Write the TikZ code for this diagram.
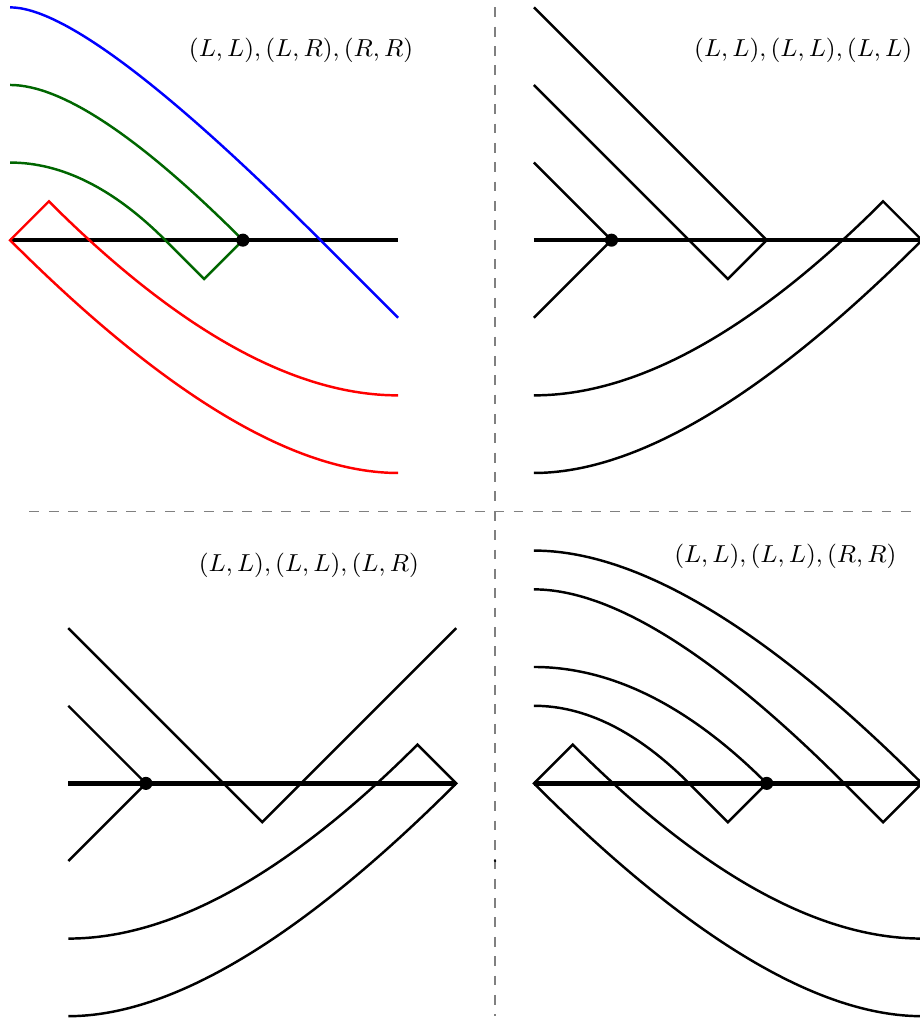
\documentclass[tikz,border=0pt]{standalone}
\begin{document}
\begin{tikzpicture}[x=0.5cm,y=0.5cm]
  \tikzstyle{strand}=[line width=0.9pt]
  \tikzstyle{axis}=[line width=1.6pt]
  \tikzstyle{sep}=[gray,line width=0.5pt,dash pattern=on 3.6pt off 3.5pt]
  \tikzstyle{crossing}=[circle,fill,inner sep=0pt,minimum size=4.8pt]
  \tikzstyle{word}=[inner sep=0pt,font=\fontsize{8.55}{10}\selectfont]
  \useasboundingbox (-0.26,-20.15) rectangle (23.43,6.19);
  % separators
  \draw[sep] (12.5,6) -- (12.5,-20);
  \draw[sep] (0.5,-7) -- (24.5,-7);
  \fill (12.5,-16) circle (0.5pt);
  % top left
  \begin{scope}
    \draw[axis] (0,0) -- (10,0);
    \draw[strand,red] (10,-6) .. controls (22/3,-6) and (4,-4) .. (0,0) -- (1,1)
      .. controls (13/3,-7/3) and (22/3,-4) .. (10,-4);
    \draw[strand,green!40!black] (0,4) .. controls (4/3,4) and (10/3,8/3) .. (6,0) -- (5,-1) -- (4,0)
      .. controls (8/3,4/3) and (4/3,2) .. (0,2);
    \draw[strand,blue] (0,6) .. controls (4/3,6) and (4,4) .. (8,0) -- (10,-2);
    \node[crossing] (tlx) at (6,0) {};
  \end{scope}
  \node[word] (tlw) at (7.5,4.9) {$(L,L),(L,R),(R,R)$};
  % top right
  \begin{scope}[shift={(13.5,0)}]
    \draw[axis] (0,0) -- (10,0);
    \draw[strand] (0,2) -- (2,0) -- (0,-2);
    \draw[strand] (0,6) -- (6,0) -- (5,-1) -- (0,4);
    \draw[strand] (0,-4) .. controls (8/3,-4) and (17/3,-7/3) .. (9,1) -- (10,0)
      .. controls (6,-4) and (8/3,-6) .. (0,-6);
    \node[crossing] (trx) at (2,0) {};
  \end{scope}
  \node[word] (trw) at (20.44,4.88) {$(L,L),(L,L),(L,L)$};
  % bottom left
  \begin{scope}[shift={(1.5,-14)}]
    \draw[axis] (0,0) -- (10,0);
    \draw[strand] (0,2) -- (2,0) -- (0,-2);
    \draw[strand] (0,4) -- (5,-1) -- (10,4);
    \draw[strand] (0,-4) .. controls (8/3,-4) and (17/3,-7/3) .. (9,1) -- (10,0)
      .. controls (6,-4) and (8/3,-6) .. (0,-6);
    \node[crossing] (blx) at (2,0) {};
  \end{scope}
  \node[word] (blw) at (7.7,-8.37) {$(L,L),(L,L),(L,R)$};
  % bottom right
  \begin{scope}[shift={(13.5,-14)}]
    \draw[axis] (0,0) -- (10,0);
    \draw[strand] (10,-6) .. controls (22/3,-6) and (4,-4) .. (0,0) -- (1,1)
      .. controls (13/3,-7/3) and (22/3,-4) .. (10,-4);
    \draw[strand] (0,3) .. controls (2,3) and (4,2) .. (6,0) -- (5,-1) -- (4,0)
      .. controls (8/3,4/3) and (4/3,2) .. (0,2);
    \draw[strand] (0,6) .. controls (8/3,6) and (6,4) .. (10,0) -- (9,-1) -- (8,0)
      .. controls (14/3,10/3) and (2,5) .. (0,5);
    \node[crossing] (brx) at (6,0) {};
  \end{scope}
  \node[word] (brw) at (19.98,-8.15) {$(L,L),(L,L),(R,R)$};
\end{tikzpicture}
\end{document}
